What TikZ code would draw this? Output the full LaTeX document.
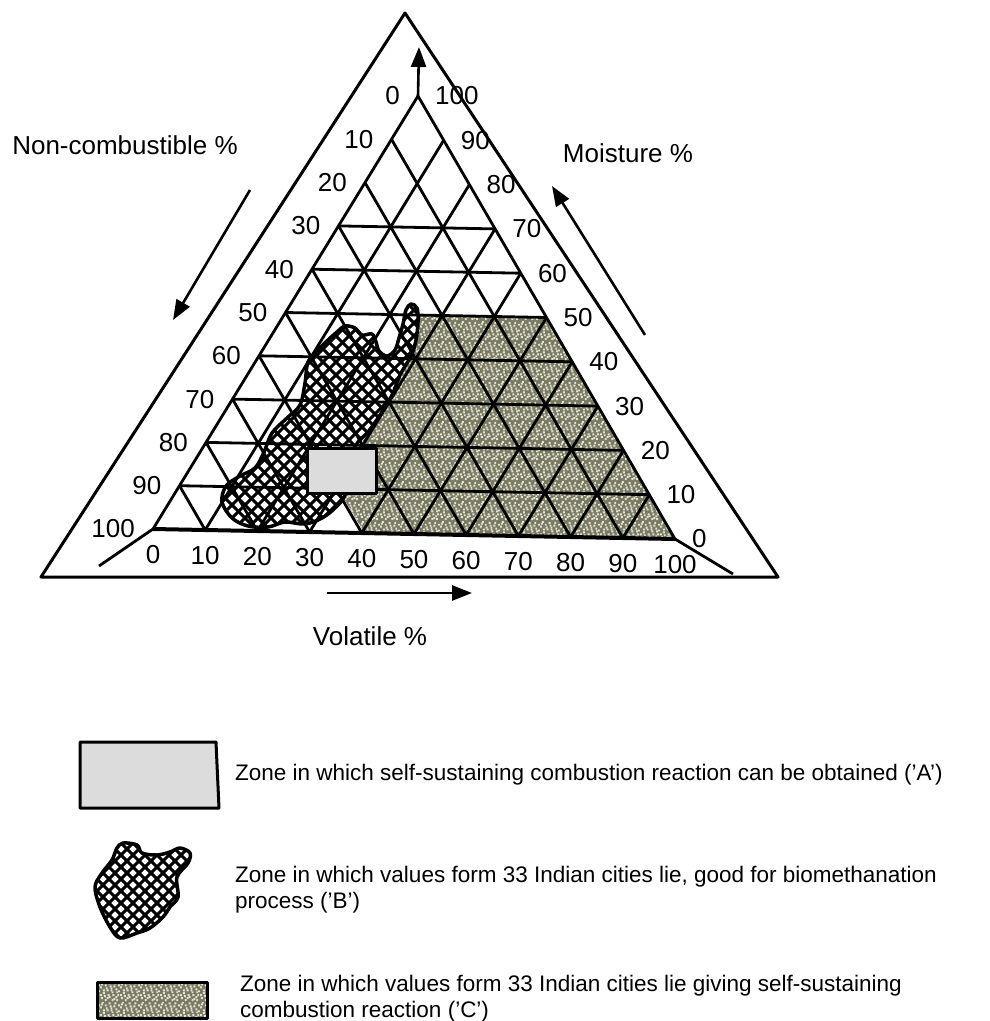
\documentclass[tikz,border=0pt]{standalone}
\usepackage{fontspec}
\setmainfont{Liberation Sans}
\usetikzlibrary{arrows.meta,patterns}

\definecolor{zoneA}{RGB}{220,220,220}
\definecolor{zoneC}{RGB}{122,122,98}
\definecolor{speck}{RGB}{228,228,214}

% grainy fill of zone C
\pgfdeclarepatternformonly{speckle}{\pgfpointorigin}{\pgfpoint{20pt}{20pt}}{\pgfpoint{20pt}{20pt}}{
  \foreach \p/\q in {1/3,5/1,9/4,14/2,18/6,3/8,7/11,12/9,16/12,0/14,5/16,10/15,
      15/18,19/16,2/19,8/6,13/6,17/1,11/13,6/13,3/11,19/10,9/18,14/15,0/6,16/4,
      7/3,12/1,4/5,17/9,1/17,11/11}
    {\pgfpathrectangle{\pgfpoint{\p pt}{\q pt}}{\pgfpoint{2pt}{2pt}}\pgfusepath{fill}}}

% outlines of the hatched zone B (chart and key)
\newcommand\zoneBpath{plot[smooth cycle, tension=0.55] coordinates {
  (337,332) (345,326) (355,328) (362,335) (372,334) (376,342) (379,351)
  (387,356) (395,350) (399,338) (403,324) (406,310) (411,304) (417,308)
  (418,322) (416,340) (411,356) (400,375) (392,395) (380,415) (368,432)
  (356,445) (348,470) (345,495) (335,508) (322,518) (305,524) (285,522)
  (268,527) (248,526) (232,518) (222,502) (226,486) (240,476) (255,468)
  (264,452) (272,433) (287,418) (300,405) (305,383) (308,362) (318,350)
  (328,340)}}
\newcommand\keyBpath{plot[smooth cycle, tension=0.55] coordinates {
  (123,843) (137,845) (142,853) (157,855) (170,852) (180,848) (190,853)
  (188,863) (177,877) (178,897) (170,907) (163,917) (150,928) (137,933)
  (120,938) (110,927) (100,907) (95,887) (102,873) (112,860) (117,848)}}

\begin{document}
\begin{tikzpicture}[x=1pt, y=-1pt, line join=round,
    every node/.style={inner sep=0pt, font=\fontsize{26}{30}\selectfont},
    gridline/.style={line width=2.8pt},
    hatchline/.style={line width=3pt},
    grainy/.style={preaction={fill=zoneC}, pattern=speckle, pattern color=speck},
    axisarrow/.style={line width=2.6pt, -{Triangle[length=20pt,width=15pt]}},
    keytext/.style={anchor=west, align=left, font=\fontsize{22.5}{26}\selectfont}]
  \useasboundingbox (0,0) rectangle (990,1021);

  % outer triangle
  \coordinate (top) at (405,13);
  \coordinate (bl) at (41,577);
  \coordinate (br) at (778,577);
  \draw[line width=3pt] (top) -- (bl) -- (br) -- cycle;

  % corners of the grid
  \begin{scope}[shift={(153,529)}, x={(52.2pt,-1pt)}, y={(26.5pt,43.3pt)}]
    \coordinate (L) at (0,0);
    \coordinate (R) at (10,0);
    \coordinate (T) at (0,10);
    \coordinate (C1) at (2.52,5);
    \coordinate (C2) at (5,5);
    \coordinate (C3) at (4.05,0);
  \end{scope}

  % zone C
  \path[grainy] (C1) -- (C2) -- (R) -- (C3) -- (343,497) -- (352,470)
    -- (360,445) -- (368,433) -- (380,415) -- (392,395) -- (400,375)
    -- (411,356) -- (416,340) -- cycle;

  % zone B
  \begin{scope}
    \clip \zoneBpath;
    \fill[white] (200,290) rectangle (430,540);
    \foreach \c in {-100,-87,...,440}
      \draw[hatchline] (\c,290) -- ++(250,250);
    \foreach \c in {200,213,...,740}
      \draw[hatchline] (\c,290) -- ++(-250,250);
  \end{scope}

  % grid
  \begin{scope}[shift={(153,529)}, x={(52.2pt,-1pt)}, y={(26.5pt,43.3pt)}]
    \foreach \i in {1,...,9} {
      \draw[gridline] (\i,0) -- (\i,10-\i);
      \draw[gridline] (\i,0) -- (0,\i);
    }
    \foreach \k in {1,...,7}
      \draw[gridline] (0,\k) -- (10-\k,\k);
    \draw[gridline] (R) -- (T) -- (L);
    \draw[line width=4pt] (L) -- (R);

    \foreach \k [evaluate=\k as \lab using int(100-10*\k)] in {0,...,10}
      \node[anchor=east] (nc\k) at ([xshift=-18pt]0,\k) {\lab};
    \foreach \k [evaluate=\k as \lab using int(10*\k)] in {0,...,10}
      \node[anchor=west] (mo\k) at ([xshift=17pt]10-\k,\k) {\lab};
    \foreach \i [evaluate=\i as \lab using int(10*\i)] in {0,...,10}
      \node (vo\i) at ([yshift=-26pt]\i,0) {\lab};
  \end{scope}

  \draw[line width=3.5pt] \zoneBpath;

  % zone A
  \node[draw, line width=3pt, fill=zoneA, minimum width=69pt, minimum height=45pt]
    (zoneA) at (342,471) {};

  % tails at the grid corners
  \coordinate (tl) at (99,566);
  \coordinate (tr) at (733,574);
  \draw[gridline] (L) -- (tl);
  \draw[gridline] (R) -- (tr);

  % axis arrows and titles
  \coordinate (uptip) at (419,47);
  \draw[axisarrow] (T) -- (uptip);
  \coordinate (ncs) at (250,190);
  \coordinate (nce) at (173,320);
  \draw[axisarrow] (ncs) -- (nce);
  \coordinate (mos) at (645,335);
  \coordinate (moe) at (552,186);
  \draw[axisarrow] (mos) -- (moe);
  \coordinate (vos) at (327,593);
  \coordinate (voe) at (472,593);
  \draw[axisarrow] (vos) -- (voe);

  \node (nctitle) at (125,145) {Non-combustible \%};
  \node (motitle) at (628,153) {Moisture \%};
  \node (votitle) at (370,636) {Volatile \%};

  % key
  \draw[line width=3pt, fill=zoneA] (80,742) -- (216,742) -- (219,808) -- (80,808) -- cycle;
  \node[keytext] (keyA) at (235,775)
    {Zone in which self-sustaining combustion reaction can be obtained ('A')};

  \begin{scope}
    \clip \keyBpath;
    \fill[white] (90,838) rectangle (200,945);
    \foreach \c in {-40,-28,...,200}
      \draw[hatchline] (\c,838) -- ++(110,110);
    \foreach \c in {90,102,...,320}
      \draw[hatchline] (\c,838) -- ++(-110,110);
  \end{scope}
  \draw[line width=3.5pt] \keyBpath;
  \node[keytext] (keyB) at (235,890)
    {Zone in which values form 33 Indian cities lie, good for biomethanation\\process ('B')};

  \draw[line width=3pt, grainy] (97,982) rectangle (207,1018);
  \node[keytext] (keyC) at (240,999)
    {Zone in which values form 33 Indian cities lie giving self-sustaining\\combustion reaction ('C')};
\end{tikzpicture}
\end{document}
